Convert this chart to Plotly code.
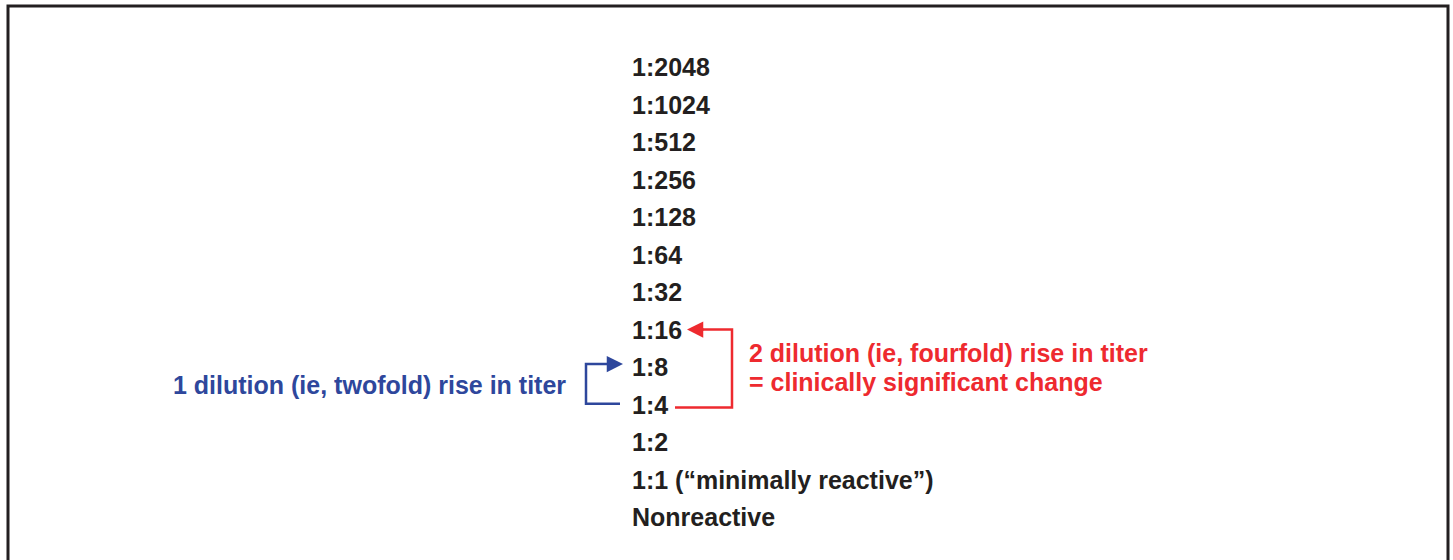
import plotly.graph_objects as go

# ---- data ----
titers = ["1:2048", "1:1024", "1:512", "1:256", "1:128", "1:64", "1:32",
          "1:16", "1:8", "1:4", "1:2", "1:1 (\u201cminimally reactive\u201d)", "Nonreactive"]
blue_label = "1 dilution (ie, twofold) rise in titer"
red_label_lines = ["2 dilution (ie, fourfold) rise in titer", "= clinically significant change"]
blue_from, blue_to = "1:4", "1:8"
red_from, red_to = "1:4", "1:16"

BLUE = "#2E479C"
RED = "#EE2A2F"
INK = "#231F20"
FONT = "Liberation Sans, Arial, sans-serif"

W, H = 1453, 560
row0_px, row_step = 67, 37.5
def r2px_range():
    return [(H - row0_px) / row_step, (0 - row0_px) / row_step]

rows = {t: i for i, t in enumerate(titers)}
fig = go.Figure()

annotations = []
for t, i in rows.items():
    annotations.append(dict(x=630, y=i, text=t, showarrow=False, xanchor="left",
                            yanchor="middle", font=dict(family=FONT, size=25, color=INK, weight="bold")))

# blue bracket
yb_top = rows[blue_to] - 0.08
yb_bot = rows[blue_from] - 0.02
fig.add_trace(go.Scatter(x=[612, 586, 586, 620], y=[yb_top, yb_top, yb_bot, yb_bot],
                         mode="lines", line=dict(color=BLUE, width=2.5), hoverinfo="skip"))
annotations.append(dict(x=623, y=yb_top, ax=606, ay=yb_top, axref="x", ayref="y",
                        xref="x", yref="y", text="", showarrow=True, arrowhead=2,
                        arrowsize=1.3, arrowwidth=2.5, arrowcolor=BLUE))
annotations.append(dict(x=568, y=rows[blue_from] - 0.52, text=blue_label, showarrow=False,
                        xanchor="right", yanchor="middle",
                        font=dict(family=FONT, size=25, color=BLUE, weight="bold")))

# red bracket
yr_top = rows[red_to]
yr_bot = rows[red_from] + 0.08
fig.add_trace(go.Scatter(x=[700, 732, 732, 675], y=[yr_top, yr_top, yr_bot, yr_bot],
                         mode="lines", line=dict(color=RED, width=2.5), hoverinfo="skip"))
annotations.append(dict(x=687, y=yr_top, ax=705, ay=yr_top, axref="x", ayref="y",
                        xref="x", yref="y", text="", showarrow=True, arrowhead=2,
                        arrowsize=1.3, arrowwidth=2.5, arrowcolor=RED))
mid = (rows[red_to] + rows[red_from]) / 2
for k, line in enumerate(red_label_lines):
    annotations.append(dict(x=747, y=mid - 0.38 + 0.78 * k, text=line,
                            showarrow=False, xanchor="left", yanchor="middle", align="left",
                            font=dict(family=FONT, size=25, color=RED, weight="bold")))

fig.update_layout(
    width=W, height=H, margin=dict(l=0, r=0, t=0, b=0),
    paper_bgcolor="white", plot_bgcolor="white", showlegend=False,
    xaxis=dict(range=[0, W], visible=False, fixedrange=True),
    yaxis=dict(range=r2px_range(), visible=False, fixedrange=True),
    annotations=annotations,
    shapes=[dict(type="rect", xref="paper", yref="paper", x0=8 / W, x1=1448 / W,
                 y0=-0.05, y1=1 - 6 / H, line=dict(color=INK, width=3))],
)

fig.write_html("out.html", config={"displayModeBar": False},
               post_script="document.body.style.margin='0';document.body.style.overflow='hidden';")
